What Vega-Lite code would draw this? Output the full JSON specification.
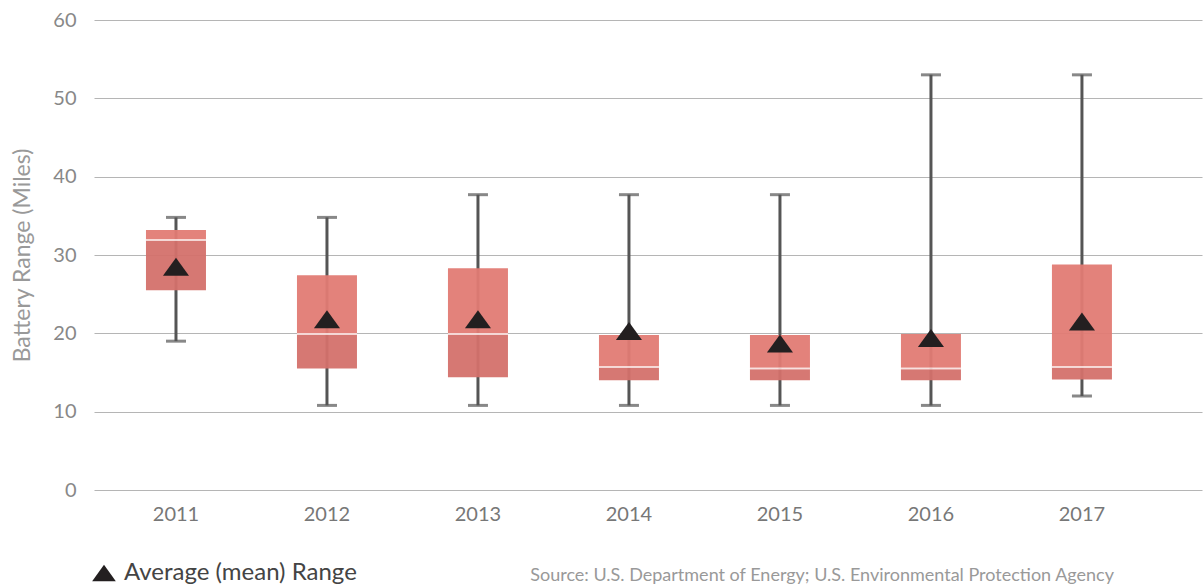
{
  "$schema": "https://vega.github.io/schema/vega-lite/v6.json",
  "width": 1108,
  "height": 470,
  "autosize": {"type": "none"},
  "padding": {"left": 94, "top": 20, "right": 1, "bottom": 98},
  "background": "white",
  "title": {
    "text": "Source: U.S. Department of Energy; U.S. Environmental Protection Agency",
    "orient": "bottom",
    "anchor": "end",
    "dx": -88,
    "dy": -18,
    "offset": 0,
    "fontSize": 18,
    "fontWeight": "normal",
    "font": "Lato",
    "color": "#999999"
  },
  "config": {
    "view": {"stroke": null},
    "font": "Lato"
  },
  "data": {
    "values": [
      {"year": "2011", "min": 19.0, "q1": 25.5, "median": 31.9, "q3": 33.2, "max": 34.8, "mean": 28.5},
      {"year": "2012", "min": 10.8, "q1": 15.5, "median": 19.9, "q3": 27.4, "max": 34.8, "mean": 21.8},
      {"year": "2013", "min": 10.8, "q1": 14.4, "median": 19.9, "q3": 28.3, "max": 37.7, "mean": 21.8},
      {"year": "2014", "min": 10.8, "q1": 14.0, "median": 15.7, "q3": 19.8, "max": 37.7, "mean": 20.3},
      {"year": "2015", "min": 10.8, "q1": 14.0, "median": 15.5, "q3": 19.8, "max": 37.7, "mean": 18.7},
      {"year": "2016", "min": 10.8, "q1": 14.0, "median": 15.5, "q3": 19.9, "max": 53.0, "mean": 19.4},
      {"year": "2017", "min": 12.0, "q1": 14.1, "median": 15.7, "q3": 28.8, "max": 53.0, "mean": 21.5}
    ]
  },
  "encoding": {
    "x": {
      "field": "year",
      "type": "ordinal",
      "scale": {"paddingInner": 0, "paddingOuter": 0.169, "align": 0.127},
      "axis": {
        "title": null,
        "labelAngle": 0,
        "labelFontSize": 20,
        "labelColor": "#777777",
        "labelPadding": 14,
        "domain": false,
        "ticks": false
      }
    }
  },
  "layer": [
    {
      "mark": {"type": "rule", "color": "#555555", "strokeWidth": 3},
      "encoding": {
        "y": {
          "field": "min",
          "type": "quantitative",
          "scale": {"domain": [0, 60], "nice": false},
          "axis": {
            "title": "Battery Range (Miles)",
            "titleFontSize": 23,
            "titleFontWeight": "normal",
            "titleColor": "#999999",
            "titlePadding": 18,
            "values": [0, 10, 20, 30, 40, 50, 60],
            "labelFontSize": 20,
            "labelColor": "#888888",
            "labelPadding": 18,
            "domain": false,
            "ticks": false,
            "grid": true,
            "gridColor": "#b5b5b5",
            "gridWidth": 1
          }
        },
        "y2": {"field": "max"}
      }
    },
    {
      "mark": {"type": "tick", "color": "#555555", "size": 20, "thickness": 3, "orient": "horizontal"},
      "encoding": {"y": {"field": "min", "type": "quantitative"}}
    },
    {
      "mark": {"type": "tick", "color": "#555555", "size": 20, "thickness": 3, "orient": "horizontal"},
      "encoding": {"y": {"field": "max", "type": "quantitative"}}
    },
    {
      "mark": {"type": "bar", "size": 60, "color": "#e27b74", "opacity": 0.95},
      "encoding": {
        "y": {"field": "median", "type": "quantitative"},
        "y2": {"field": "q3"}
      }
    },
    {
      "mark": {"type": "bar", "size": 60, "color": "#d4716b", "opacity": 0.95},
      "encoding": {
        "y": {"field": "q1", "type": "quantitative"},
        "y2": {"field": "median"}
      }
    },
    {
      "mark": {"type": "tick", "color": "white", "size": 60, "thickness": 2, "orient": "horizontal"},
      "encoding": {"y": {"field": "median", "type": "quantitative"}}
    },
    {
      "mark": {"type": "point", "filled": true, "size": 680, "opacity": 1, "color": "#231f20", "strokeWidth": 0},
      "encoding": {
        "y": {"field": "mean", "type": "quantitative"},
        "shape": {
          "datum": "Average (mean) Range",
          "scale": {"range": ["M-1,0.69L1,0.69L0,-0.69Z"]},
          "legend": {
            "title": null,
            "orient": "none",
            "legendX": -2,
            "legendY": 541,
            "labelFontSize": 24,
            "labelColor": "#444444",
            "labelLimit": 500,
            "symbolSize": 560,
            "symbolFillColor": "#231f20",
            "symbolStrokeWidth": 0,
            "labelOffset": 8
          }
        }
      }
    }
  ]
}
